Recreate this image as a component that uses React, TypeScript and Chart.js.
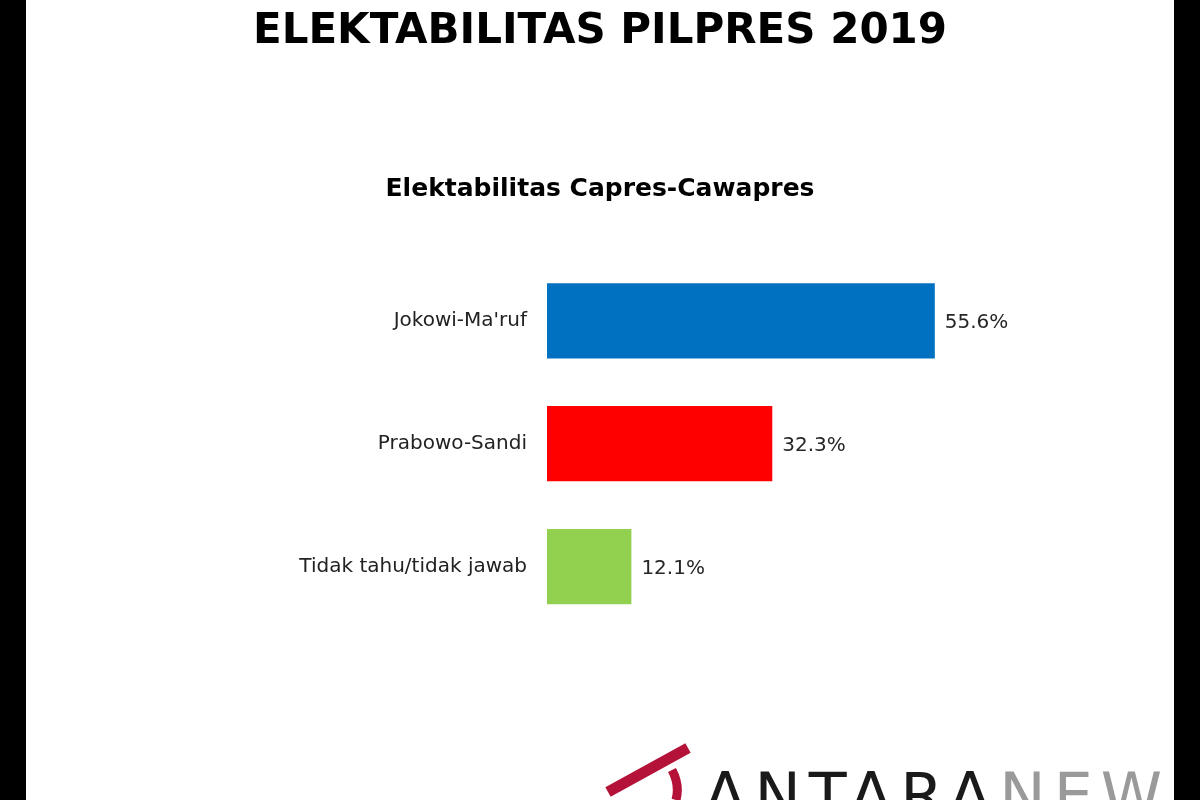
import React, { useEffect, useRef } from "react";
import { Chart, registerables } from "chart.js";

Chart.register(...registerables);

const mainTitle = "ELEKTABILITAS PILPRES 2019";
const chartTitle = "Elektabilitas Capres-Cawapres";
const categories = ["Jokowi-Ma'ruf", "Prabowo-Sandi", "Tidak tahu/tidak jawab"];
const values = [55.6, 32.3, 12.1];
const barColors = ["#0070C0", "#FF0000", "#92D050"];
const valueLabels = ["55.6%", "32.3%", "12.1%"];

const valueLabelPlugin = {
  id: "valueLabels",
  afterDatasetsDraw(chart: any) {
    const ctx = chart.ctx;
    const meta = chart.getDatasetMeta(0);
    ctx.save();
    ctx.font = "20px 'DejaVu Sans'";
    ctx.fillStyle = "#262626";
    ctx.textAlign = "left";
    ctx.textBaseline = "middle";
    meta.data.forEach((bar: any, i: number) => {
      ctx.fillText(valueLabels[i], bar.x + 10, bar.y + 2);
    });
    ctx.restore();
  },
};

export default function App() {
  const canvasRef = useRef<HTMLCanvasElement | null>(null);

  useEffect(() => {
    document.body.style.margin = "0";
    const canvas = canvasRef.current;
    if (!canvas) return;
    const chart = new Chart(canvas, {
      type: "bar",
      data: {
        labels: categories,
        datasets: [
          {
            data: values,
            backgroundColor: barColors,
            borderWidth: 0,
            barPercentage: 0.612,
            categoryPercentage: 1,
          },
        ],
      },
      options: {
        indexAxis: "y",
        animation: false,
        responsive: false,
        maintainAspectRatio: false,
        layout: { padding: { left: 95, right: 95, top: 0, bottom: 172 } },
        plugins: {
          legend: { display: false },
          tooltip: { enabled: false },
          title: {
            display: true,
            text: mainTitle,
            color: "#000000",
            font: { family: "'DejaVu Sans'", size: 42, weight: "bold" },
            padding: { top: 7, bottom: 117 },
          },
          subtitle: {
            display: true,
            text: chartTitle,
            color: "#000000",
            font: { family: "'DejaVu Sans'", size: 25, weight: "bold" },
            padding: { top: 0, bottom: 55 },
          },
        },
        scales: {
          x: {
            display: false,
            min: 0,
            max: 80,
          },
          y: {
            grid: { display: false, drawTicks: false },
            border: { display: false },
            ticks: {
              color: "#222222",
              padding: 20,
              font: { family: "'DejaVu Sans'", size: 20 },
            },
            afterFit(scale: any) {
              scale.width = 452;
            },
          },
        },
      },
      plugins: [valueLabelPlugin],
    });
    return () => chart.destroy();
  }, []);

  return (
    <div style={{ position: "relative", width: 1200, height: 800, background: "#ffffff", overflow: "hidden" }}>
      <canvas ref={canvasRef} width={1200} height={800} style={{ position: "absolute", left: 0, top: 0 }} />
      <svg style={{ position: "absolute", left: 590, top: 740 }} width="110" height="60">
        <path d="M98 8 L18 52" stroke="#B5123A" strokeWidth="11" fill="none" strokeLinecap="butt" />
        <path d="M82 30 Q90 45 86 60" stroke="#B5123A" strokeWidth="9" fill="none" />
      </svg>
      <div
        style={{
          position: "absolute",
          left: 704,
          top: 765,
          fontFamily: "'DejaVu Sans'",
          fontSize: 62,
          lineHeight: "62px",
          letterSpacing: 8,
          fontWeight: 400,
          whiteSpace: "nowrap",
        }}
      >
        <span style={{ color: "#1a1a1a" }}>ANTARA</span>
        <span style={{ color: "#9a9a9a" }}>NEWS</span>
      </div>
      <div style={{ position: "absolute", left: 0, top: 0, width: 26, height: 800, background: "#000" }} />
      <div style={{ position: "absolute", left: 1174, top: 0, width: 26, height: 800, background: "#000" }} />
    </div>
  );
}
